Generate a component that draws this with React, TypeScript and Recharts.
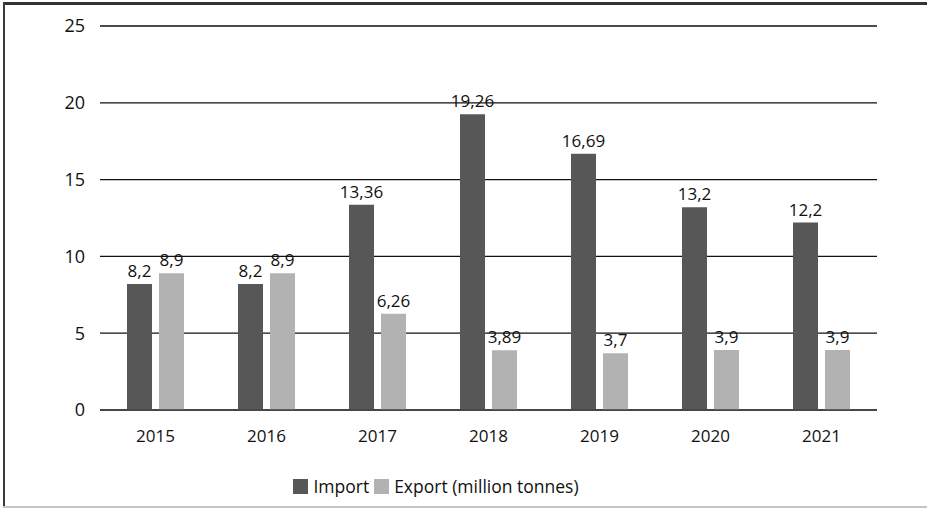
import { BarChart, Bar, XAxis, YAxis, CartesianGrid, Legend, LabelList } from 'recharts';

const years = ['2015', '2016', '2017', '2018', '2019', '2020', '2021'];
const importValues = [8.2, 8.2, 13.36, 19.26, 16.69, 13.2, 12.2];
const exportValues = [8.9, 8.9, 6.26, 3.89, 3.7, 3.9, 3.9];
const yTicks = [0, 5, 10, 15, 20, 25];

const IMPORT_COLOR = '#575757';
const EXPORT_COLOR = '#b2b2b2';
const FONT = '"Open Sans", sans-serif';

const data = years.map((year, i) => ({
  year,
  import: importValues[i],
  export: exportValues[i],
}));

const fmt = (v: any) => String(v).replace('.', ',');

function LegendContent() {
  const items = [
    { label: 'Import', color: IMPORT_COLOR },
    { label: 'Export (million tonnes)', color: EXPORT_COLOR },
  ];
  return (
    <div style={{ display: 'flex', justifyContent: 'center', alignItems: 'center', fontFamily: FONT, fontSize: 17.5, color: '#111', lineHeight: '22px' }}>
      {items.map((it) => (
        <span key={it.label} style={{ display: 'inline-flex', alignItems: 'center', marginRight: 5 }}>
          <span style={{ width: 15, height: 15, background: it.color, display: 'inline-block', marginRight: 5 }} />
          {it.label}
        </span>
      ))}
    </div>
  );
}

export default function App() {
  return (
    <div style={{ position: 'absolute', top: 0, left: 0, width: 927, height: 509, background: '#fff' }}>
      <BarChart
        width={927}
        height={509}
        data={data}
        margin={{ top: 26, right: 50, left: 0, bottom: 12 }}
        barSize={25}
        barGap={7}
      >
        <rect x={3} y={3} width={924} height={503} fill="none" stroke="none" />
        <CartesianGrid horizontal vertical={false} stroke="#111" strokeWidth={1.3} />
        <XAxis
          dataKey="year"
          axisLine={{ stroke: '#444', strokeWidth: 1.3 }}
          tickLine={false}
          tickSize={0}
          tickMargin={20}
          height={65}
          tick={{ fill: '#111', fontSize: 17, fontFamily: FONT }}
        />
        <YAxis
          domain={[0, 25]}
          ticks={yTicks}
          axisLine={false}
          tickLine={false}
          tickSize={0}
          tickMargin={15}
          width={100}
          tick={{ fill: '#111', fontSize: 18, fontFamily: FONT }}
        />
        <Legend verticalAlign="bottom" content={<LegendContent />} />
        <Bar dataKey="import" name="Import" fill={IMPORT_COLOR} isAnimationActive={false}>
          <LabelList dataKey="import" position="top" formatter={fmt} fill="#111" fontSize={17} fontFamily={FONT} offset={7} />
        </Bar>
        <Bar dataKey="export" name="Export (million tonnes)" fill={EXPORT_COLOR} isAnimationActive={false}>
          <LabelList dataKey="export" position="top" formatter={fmt} fill="#111" fontSize={17} fontFamily={FONT} offset={7} />
        </Bar>
      </BarChart>
      <div style={{ position: 'absolute', left: 3, top: 2, width: 924, height: 3, background: '#333', pointerEvents: 'none' }} />
      <div style={{ position: 'absolute', left: 3, top: 2, width: 2, height: 506, background: '#3a3a3a', pointerEvents: 'none' }} />
      <div style={{ position: 'absolute', left: 3, top: 506, width: 924, height: 2, background: '#c4c4c4', pointerEvents: 'none' }} />
    </div>
  );
}
